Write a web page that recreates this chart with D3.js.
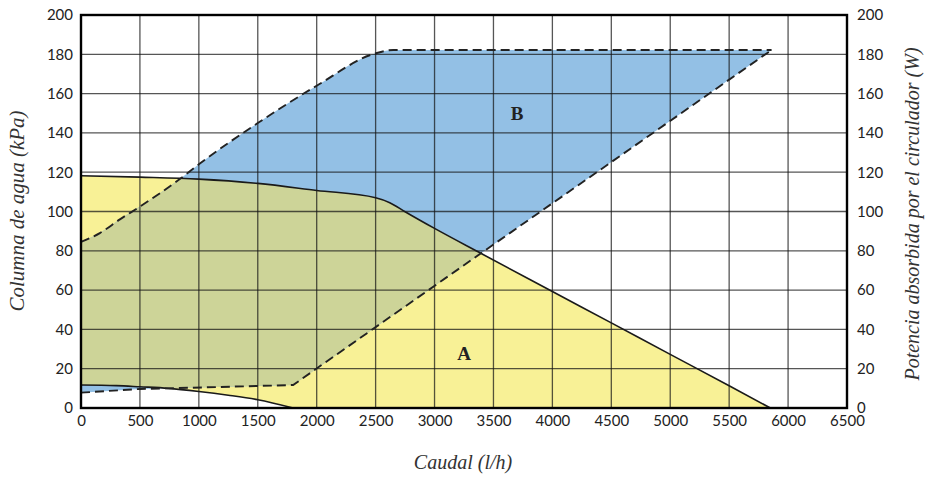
<!DOCTYPE html>
<html><head><meta charset="utf-8">
<script src="https://cdn.jsdelivr.net/npm/d3@7"></script>
<style>body{margin:0;background:#fff}svg{display:block}</style>
</head><body>
<svg id="c" width="926" height="477"></svg>
<script>
// Pump curve (upper solid, region A top) — flow (l/h) vs head (kPa)
const pumpFlow = [0, 500, 1000, 1500, 2000, 2500, 2620, 2750, 3000, 3400, 4000, 4500, 5000, 5500, 5850];
const pumpHead = [118.2, 117.5, 116.5, 114.3, 110.7, 107, 104.5, 99.9, 91.4, 78.5, 59.3, 43.3, 27.3, 11.3, 0];
// Lower solid curve (region A bottom)
const minFlow = [0, 300, 500, 740, 1000, 1250, 1500, 1800];
const minHead = [11.7, 11.4, 10.8, 10, 8.4, 6.5, 4.2, 0];
// Upper dashed (max power, region B top) — W
const powMaxFlow = [0, 160, 330, 500, 850, 1000, 1500, 2000, 2500, 2650, 5860];
const powMaxW = [84.5, 89, 96, 102.5, 117, 124, 145, 164, 180.5, 182.2, 182.2];
// Lower dashed (min power, region B bottom)
const powMinFlow = [0, 500, 740, 1800, 3400, 5860];
const powMinW = [7.8, 9.7, 10, 11.7, 79, 182.2];
// Ticks and labels
const xTicks = [0,500,1000,1500,2000,2500,3000,3500,4000,4500,5000,5500,6000,6500];
const yTicks = [0,20,40,60,80,100,120,140,160,180,200];
const labels = {x: "Caudal (l/h)", yLeft: "Columna de agua (kPa)", yRight: "Potencia absorbida por el circulador (W)", a: "A", b: "B"};

const svg = d3.select("#c");
const L = 81, R = 847, T = 15, B = 408;
const x = d3.scaleLinear().domain([0, 6500]).range([L, R]);
const y = d3.scaleLinear().domain([0, 200]).range([B, T]);

const zip = (a, b) => a.map((v, i) => [v, b[i]]);
const pump = zip(pumpFlow, pumpHead);
const minC = zip(minFlow, minHead);
const pmax = zip(powMaxFlow, powMaxW);
const pmin = zip(powMinFlow, powMinW);

const smooth = d3.line().x(d => x(d[0])).y(d => y(d[1])).curve(d3.curveMonotoneX);
const lin = d3.line().x(d => x(d[0])).y(d => y(d[1]));

const pathA = smooth(pump) + smooth(minC.slice().reverse()).replace(/^M/, "L") + "Z";
const pathB = smooth(pmax) + lin(pmin.slice().reverse()).replace(/^M/, "L") + "Z";

const defs = svg.append("defs");
defs.append("clipPath").attr("id", "clipA").append("path").attr("d", pathA);

svg.append("path").attr("d", pathA).attr("fill", "#f8f196");
svg.append("path").attr("d", pathB).attr("fill", "#93c0e5");
svg.append("path").attr("d", pathB).attr("fill", "#cdd498").attr("clip-path", "url(#clipA)");

// grid
const g = svg.append("g").attr("stroke", "#151515").attr("stroke-opacity", 0.72).attr("stroke-width", 1.3);
xTicks.slice(1, -1).forEach(t => g.append("line").attr("x1", x(t)).attr("x2", x(t)).attr("y1", T).attr("y2", B));
yTicks.slice(1, -1).forEach(t => g.append("line").attr("x1", L).attr("x2", R).attr("y1", y(t)).attr("y2", y(t)));

// curves
svg.append("path").attr("d", smooth(pump)).attr("fill", "none").attr("stroke", "#1a1a1a").attr("stroke-width", 1.6);
svg.append("path").attr("d", smooth(minC)).attr("fill", "none").attr("stroke", "#1a1a1a").attr("stroke-width", 1.6);
svg.append("path").attr("d", smooth(pmax)).attr("fill", "none").attr("stroke", "#222").attr("stroke-width", 1.9).attr("stroke-dasharray", "9,5");
svg.append("path").attr("d", lin(pmin)).attr("fill", "none").attr("stroke", "#222").attr("stroke-width", 1.9).attr("stroke-dasharray", "9,5");

// frame
svg.append("rect").attr("x", L).attr("y", T).attr("width", R - L).attr("height", B - T)
  .attr("fill", "none").attr("stroke", "#000").attr("stroke-width", 2.4);

// axes
const tf = "Lato, 'Open Sans', sans-serif";
const fmt = d3.format("d");
const axL = d3.axisLeft(y).tickValues(yTicks).tickFormat(fmt).tickSize(0).tickPadding(8);
const axR = d3.axisRight(y).tickValues(yTicks).tickFormat(fmt).tickSize(0).tickPadding(10);
const axB = d3.axisBottom(x).tickValues(xTicks).tickFormat(fmt).tickSize(0).tickPadding(7);
[[axL, `translate(${L},0)`], [axR, `translate(${R},0)`], [axB, `translate(0,${B})`]].forEach(([ax, tr]) => {
  const gg = svg.append("g").attr("transform", tr).call(ax);
  gg.select(".domain").remove();
  gg.selectAll("text").attr("font-family", tf).attr("font-size", 15).attr("fill", "#222");
});

const sf = "'Liberation Serif', 'DejaVu Serif', serif";
svg.append("text").attr("x", 463).attr("y", 469).attr("text-anchor", "middle")
  .attr("font-family", sf).attr("font-style", "italic").attr("font-size", 20).attr("fill", "#333").text(labels.x);
svg.append("text").attr("transform", "translate(24,211) rotate(-90)").attr("text-anchor", "middle")
  .attr("font-family", sf).attr("font-style", "italic").attr("font-size", 21).attr("fill", "#333").text(labels.yLeft);
svg.append("text").attr("transform", "translate(919,214) rotate(-90)").attr("text-anchor", "middle")
  .attr("font-family", sf).attr("font-style", "italic").attr("font-size", 20).attr("fill", "#333").text(labels.yRight);

svg.append("text").attr("x", x(3250)).attr("y", y(28) + 7).attr("text-anchor", "middle")
  .attr("font-family", sf).attr("font-weight", "bold").attr("font-size", 19).attr("fill", "#222").text(labels.a);
svg.append("text").attr("x", x(3700)).attr("y", y(150) + 7).attr("text-anchor", "middle")
  .attr("font-family", sf).attr("font-weight", "bold").attr("font-size", 19).attr("fill", "#222").text(labels.b);
</script>
</body></html>
